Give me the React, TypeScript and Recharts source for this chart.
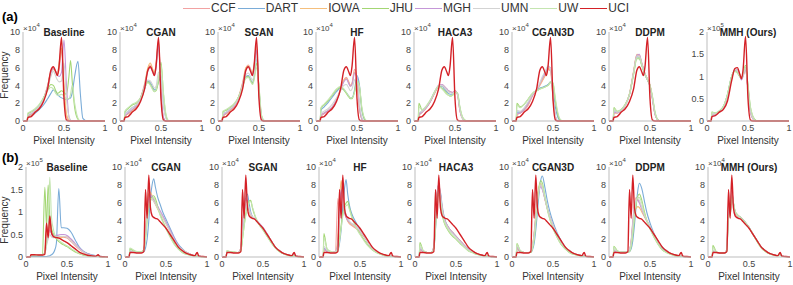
import React from 'react';
import { LineChart, Line, XAxis, YAxis } from 'recharts';

// Intensity histograms per site, values in units of 1e4 counts.
const FONT = '"Liberation Sans", Arial, sans-serif';
const SITES = ['CCF', 'DART', 'IOWA', 'JHU', 'MGH', 'UMN', 'UW', 'UCI'];
const COLORS = ['#f2a2a2', '#7aacd8', '#f5bf7c', '#a3d673', '#c597d8', '#d3d3d3', '#c4e5b0', '#d42127'];

// x grid of row (a) and row (b)
const XA = [0, 0.05, 0.06, 0.1, 0.15, 0.2, 0.25, 0.3, 0.34, 0.37, 0.4, 0.42, 0.44, 0.47, 0.5, 0.53, 0.56, 0.58, 0.6, 0.63, 0.67, 0.7, 0.73, 0.78, 1];
const XB = [0, 0.05, 0.06, 0.1, 0.15, 0.2, 0.23, 0.25, 0.27, 0.29, 0.31, 0.33, 0.35, 0.37, 0.4, 0.43, 0.46, 0.5, 0.55, 0.6, 0.65, 0.7, 0.75, 0.8, 0.85, 0.88, 0.9, 0.95, 1];

// target site (UCI)
const uciA = [0, 0, 0.4, 0.5, 1.0, 1.4, 2.2, 3.6, 5.7, 6.1, 5.5, 5.1, 6.2, 9.4, 2.5, 0.1, 0, 0, 0, 0, 0, 0, 0, 0, 0];
const uciMmhA = [0, 0, 1.0, 1.2, 2.0, 2.6, 4.5, 9.0, 11.8, 12.0, 10.5, 9.5, 11.5, 19.0, 5.0, 0.2, 0, 0, 0, 0, 0, 0, 0, 0, 0];
const uciB = [0, 0, 0.5, 0.5, 0.45, 0.45, 0.6, 7.5, 4.3, 9.1, 5.5, 4.6, 4.4, 4.3, 4.2, 3.9, 3.6, 3.2, 2.5, 1.8, 1.1, 0.7, 0.4, 0.25, 0.15, 0.5, 0.1, 0.05, 0];

// row (a) — each list: CCF, DART, IOWA, JHU, MGH, UMN, UW
const baselineA = [
  [0, 0, 0.5, 0.7, 1.1, 1.5, 2.4, 3.9, 5.6, 6.0, 5.6, 5.2, 5.8, 8.0, 3.5, 0.5, 0.05, 0, 0, 0, 0, 0, 0, 0, 0],
  [0, 0, 0.5, 0.6, 0.9, 1.3, 1.8, 2.5, 3.1, 3.5, 3.3, 3.0, 2.8, 2.6, 2.5, 2.4, 2.5, 2.6, 3.2, 5.0, 6.7, 3.0, 0.3, 0, 0],
  [0, 0, 0.5, 0.7, 1.1, 1.6, 2.5, 4.0, 5.5, 5.8, 5.5, 5.3, 6.5, 8.2, 4.0, 0.8, 0.1, 0, 0, 0, 0, 0, 0, 0, 0],
  [0, 0, 0.8, 1.0, 1.3, 1.8, 2.6, 3.5, 4.1, 4.0, 3.4, 3.1, 3.2, 3.4, 3.2, 3.0, 5.0, 6.8, 4.5, 1.5, 0.2, 0, 0, 0, 0],
  [0, 0, 0.6, 0.8, 1.2, 1.6, 2.5, 3.9, 5.4, 5.9, 5.6, 5.2, 5.0, 5.5, 9.1, 4.0, 0.5, 0.1, 0, 0, 0, 0, 0, 0, 0],
  [0, 0, 0.7, 0.9, 1.2, 1.7, 2.5, 3.7, 5.0, 5.6, 5.0, 4.6, 4.4, 4.5, 6.5, 2.5, 0.5, 0.1, 0, 0, 0, 0, 0, 0, 0],
  [0, 0, 0.9, 1.1, 1.4, 1.9, 2.6, 3.4, 3.8, 3.6, 3.1, 2.9, 2.9, 3.0, 2.8, 2.5, 2.5, 3.0, 4.0, 2.0, 0.3, 0, 0, 0, 0],
];
const cganA = [
  [0, 0, 0.5, 0.8, 1.2, 1.6, 2.5, 4.0, 5.8, 6.3, 5.7, 5.3, 6.3, 9.0, 3.0, 0.3, 0, 0, 0, 0, 0, 0, 0, 0, 0],
  [0, 0, 0.8, 1.1, 1.5, 1.8, 2.3, 3.6, 4.5, 4.3, 3.8, 3.5, 3.6, 4.4, 5.0, 2.0, 0.4, 0.1, 0, 0, 0, 0, 0, 0, 0],
  [0, 0, 0.5, 0.8, 1.2, 1.6, 2.6, 4.2, 6.0, 6.5, 5.8, 5.4, 6.5, 8.8, 3.2, 0.3, 0, 0, 0, 0, 0, 0, 0, 0, 0],
  [0, 0, 1.0, 1.4, 1.8, 2.0, 2.6, 3.8, 4.4, 4.1, 3.6, 3.3, 3.4, 4.5, 6.6, 3.0, 0.6, 0.1, 0, 0, 0, 0, 0, 0, 0],
  [0, 0, 0.6, 0.9, 1.3, 1.7, 2.6, 4.0, 5.6, 6.0, 5.5, 5.1, 6.0, 8.5, 3.3, 0.4, 0, 0, 0, 0, 0, 0, 0, 0, 0],
  [0, 0, 0.8, 1.1, 1.5, 1.8, 2.4, 3.7, 4.6, 4.5, 4.0, 3.7, 3.9, 5.5, 5.2, 1.8, 0.3, 0, 0, 0, 0, 0, 0, 0, 0],
  [0, 0, 1.1, 1.5, 1.9, 2.1, 2.6, 3.7, 4.3, 4.0, 3.5, 3.3, 3.5, 4.8, 6.3, 3.2, 0.8, 0.2, 0, 0, 0, 0, 0, 0, 0],
];
const sganA = [
  [0, 0, 0.5, 0.8, 1.2, 1.6, 2.6, 4.2, 5.9, 6.3, 5.8, 5.3, 6.1, 8.5, 3.0, 0.3, 0, 0, 0, 0, 0, 0, 0, 0, 0],
  [0, 0, 0.8, 1.0, 1.4, 1.8, 2.6, 3.9, 5.0, 5.1, 4.6, 4.3, 5.0, 7.0, 3.5, 0.5, 0, 0, 0, 0, 0, 0, 0, 0, 0],
  [0, 0, 0.5, 0.8, 1.2, 1.7, 2.7, 4.3, 6.0, 6.2, 5.7, 5.4, 6.3, 8.2, 3.3, 0.4, 0, 0, 0, 0, 0, 0, 0, 0, 0],
  [0, 0, 1.0, 1.2, 1.5, 1.9, 2.7, 3.9, 4.9, 5.0, 4.5, 4.2, 4.8, 6.5, 3.8, 0.6, 0.05, 0, 0, 0, 0, 0, 0, 0, 0],
  [0, 0, 0.6, 0.9, 1.3, 1.7, 2.6, 4.1, 5.7, 6.1, 5.6, 5.2, 5.9, 8.0, 3.2, 0.4, 0, 0, 0, 0, 0, 0, 0, 0, 0],
  [0, 0, 0.8, 1.0, 1.4, 1.8, 2.6, 4.0, 5.2, 5.4, 4.9, 4.6, 5.2, 7.2, 3.5, 0.5, 0, 0, 0, 0, 0, 0, 0, 0, 0],
  [0, 0, 1.1, 1.3, 1.6, 2.0, 2.7, 3.8, 4.8, 4.9, 4.4, 4.1, 4.6, 6.0, 3.9, 0.7, 0.1, 0, 0, 0, 0, 0, 0, 0, 0],
];
const hfA = [
  [0, 0, 0.5, 0.8, 1.1, 1.5, 2.3, 3.5, 4.6, 4.9, 4.4, 4.0, 4.3, 5.8, 4.8, 1.5, 0.2, 0, 0, 0, 0, 0, 0, 0, 0],
  [0, 0, 1.2, 1.6, 2.1, 2.7, 3.3, 3.7, 3.5, 3.2, 2.8, 2.6, 2.6, 3.5, 5.1, 4.0, 1.2, 0.4, 0.1, 0, 0, 0, 0, 0, 0],
  [0, 0, 0.6, 0.9, 1.2, 1.6, 2.4, 3.6, 4.6, 4.8, 4.3, 3.9, 4.2, 5.5, 4.6, 1.4, 0.2, 0, 0, 0, 0, 0, 0, 0, 0],
  [0, 0, 1.4, 1.8, 2.3, 2.9, 3.5, 3.8, 3.5, 3.1, 2.7, 2.5, 2.5, 3.3, 4.6, 3.8, 1.3, 0.5, 0.1, 0, 0, 0, 0, 0, 0],
  [0, 0, 0.6, 0.9, 1.2, 1.6, 2.4, 3.5, 4.4, 4.7, 4.2, 3.9, 4.1, 5.4, 4.9, 1.6, 0.2, 0, 0, 0, 0, 0, 0, 0, 0],
  [0, 0, 0.8, 1.1, 1.4, 1.9, 2.6, 3.4, 4.0, 4.1, 3.7, 3.4, 3.6, 4.6, 4.7, 2.0, 0.4, 0.1, 0, 0, 0, 0, 0, 0, 0],
  [0, 0, 1.5, 1.9, 2.4, 3.0, 3.6, 3.9, 3.6, 3.2, 2.8, 2.6, 2.6, 3.2, 4.4, 3.9, 1.5, 0.6, 0.2, 0, 0, 0, 0, 0, 0],
];
const haca3A = [
  [0, 0, 0.6, 1.0, 1.5, 2.2, 3.1, 3.9, 4.1, 3.9, 3.6, 3.4, 3.3, 3.2, 3.4, 3.0, 1.2, 0.5, 0.2, 0, 0, 0, 0, 0, 0],
  [0, 0, 0.8, 1.1, 1.6, 2.3, 3.2, 3.9, 3.9, 3.6, 3.3, 3.1, 3.0, 3.0, 3.3, 3.1, 1.4, 0.6, 0.2, 0, 0, 0, 0, 0, 0],
  [0, 0, 0.6, 1.0, 1.5, 2.2, 3.1, 3.9, 4.0, 3.8, 3.5, 3.3, 3.2, 3.2, 3.4, 3.0, 1.2, 0.5, 0.2, 0, 0, 0, 0, 0, 0],
  [0, 0, 2.0, 1.2, 1.6, 2.3, 3.2, 3.9, 3.7, 3.4, 3.1, 2.9, 2.8, 2.9, 3.2, 3.1, 1.5, 0.7, 0.3, 0.05, 0, 0, 0, 0, 0],
  [0, 0, 0.7, 1.0, 1.5, 2.2, 3.2, 4.0, 4.1, 3.9, 3.6, 3.4, 3.3, 3.2, 3.4, 3.0, 1.2, 0.5, 0.2, 0, 0, 0, 0, 0, 0],
  [0, 0, 0.9, 1.1, 1.6, 2.3, 3.2, 4.0, 4.0, 3.8, 3.5, 3.3, 3.2, 3.1, 3.3, 3.0, 1.3, 0.5, 0.2, 0, 0, 0, 0, 0, 0],
  [0, 0, 1.6, 1.3, 1.7, 2.4, 3.3, 3.9, 3.6, 3.3, 3.0, 2.9, 2.8, 2.9, 3.2, 3.2, 1.6, 0.8, 0.3, 0.05, 0, 0, 0, 0, 0],
];
const cgan3dA = [
  [0, 0, 0.7, 0.9, 1.2, 1.8, 2.8, 3.5, 4.0, 4.5, 5.0, 5.4, 5.8, 5.6, 2.5, 0.4, 0, 0, 0, 0, 0, 0, 0, 0, 0],
  [0, 0, 1.0, 1.0, 1.4, 2.1, 3.0, 3.5, 3.7, 3.8, 3.9, 4.0, 4.1, 4.4, 3.5, 1.5, 0.4, 0.1, 0, 0, 0, 0, 0, 0, 0],
  [0, 0, 0.7, 0.9, 1.3, 1.9, 2.9, 3.5, 4.1, 4.6, 5.1, 5.5, 5.9, 5.8, 2.7, 0.5, 0, 0, 0, 0, 0, 0, 0, 0, 0],
  [0, 0, 2.0, 1.6, 1.9, 2.5, 3.1, 3.4, 3.6, 3.7, 3.8, 3.9, 4.0, 4.3, 4.2, 2.2, 0.7, 0.2, 0, 0, 0, 0, 0, 0, 0],
  [0, 0, 0.8, 0.9, 1.3, 2.0, 2.9, 3.5, 4.2, 4.8, 5.3, 5.7, 6.1, 6.0, 2.8, 0.5, 0, 0, 0, 0, 0, 0, 0, 0, 0],
  [0, 0, 1.2, 1.1, 1.5, 2.2, 3.0, 3.5, 4.3, 5.0, 5.5, 5.9, 6.2, 5.9, 3.0, 0.6, 0, 0, 0, 0, 0, 0, 0, 0, 0],
  [0, 0, 1.8, 1.5, 1.9, 2.5, 3.1, 3.4, 3.6, 3.7, 3.8, 3.9, 4.0, 4.4, 4.3, 2.5, 0.9, 0.3, 0.1, 0, 0, 0, 0, 0, 0],
];
const ddpmA = [
  [0, 0, 0.9, 0.9, 1.2, 1.8, 3.0, 5.5, 7.4, 7.3, 6.4, 5.8, 5.3, 4.7, 4.0, 2.5, 0.8, 0.3, 0.1, 0, 0, 0, 0, 0, 0],
  [0, 0, 1.2, 1.0, 1.2, 1.8, 3.0, 5.4, 7.2, 7.1, 6.3, 5.7, 5.2, 4.6, 3.9, 2.6, 0.9, 0.3, 0.1, 0, 0, 0, 0, 0, 0],
  [0, 0, 0.9, 0.9, 1.2, 1.8, 3.1, 5.6, 7.5, 7.4, 6.5, 5.9, 5.3, 4.7, 4.0, 2.5, 0.8, 0.3, 0.1, 0, 0, 0, 0, 0, 0],
  [0, 0, 1.5, 1.1, 1.3, 1.9, 3.0, 5.2, 7.0, 7.0, 6.2, 5.7, 5.2, 4.6, 4.0, 2.7, 1.0, 0.4, 0.1, 0, 0, 0, 0, 0, 0],
  [0, 0, 1.0, 0.9, 1.2, 1.8, 3.0, 5.5, 7.4, 7.5, 6.5, 5.9, 5.3, 4.6, 3.9, 2.4, 0.8, 0.3, 0.1, 0, 0, 0, 0, 0, 0],
  [0, 0, 1.2, 1.0, 1.2, 1.8, 3.0, 5.4, 7.3, 7.3, 6.4, 5.8, 5.3, 4.7, 4.0, 2.6, 0.9, 0.3, 0.1, 0, 0, 0, 0, 0, 0],
  [0, 0, 1.4, 1.1, 1.3, 1.9, 3.0, 5.3, 7.1, 7.1, 6.3, 5.7, 5.2, 4.6, 4.0, 2.8, 1.1, 0.4, 0.1, 0, 0, 0, 0, 0, 0],
];
const mmhA = [
  [0, 0, 1.5, 1.5, 2.0, 3.0, 5.5, 9.5, 11.5, 11.5, 10.5, 9.8, 10.5, 11.5, 7.0, 2.0, 0.5, 0.2, 0, 0, 0, 0, 0, 0, 0],
  [0, 0, 1.5, 1.6, 2.2, 3.2, 6.0, 10.0, 11.5, 11.0, 10.0, 9.5, 10.5, 12.0, 7.5, 2.5, 0.8, 0.3, 0.1, 0, 0, 0, 0, 0, 0],
  [0, 0, 1.4, 1.5, 2.1, 3.1, 5.6, 9.6, 11.6, 11.4, 10.3, 9.7, 10.4, 11.6, 7.1, 2.1, 0.5, 0.2, 0, 0, 0, 0, 0, 0, 0],
  [0, 0, 2.0, 1.8, 2.2, 3.3, 6.0, 10.0, 11.2, 10.8, 10.0, 9.5, 10.5, 12.5, 8.0, 3.0, 1.0, 0.4, 0.1, 0, 0, 0, 0, 0, 0],
  [0, 0, 1.2, 1.4, 2.0, 3.0, 5.5, 9.5, 11.5, 11.5, 10.2, 9.2, 10.0, 11.5, 7.0, 2.0, 0.5, 0.1, 0, 0, 0, 0, 0, 0, 0],
  [0, 0, 1.6, 1.6, 2.1, 3.1, 5.8, 9.8, 11.6, 11.3, 10.1, 9.6, 10.3, 11.8, 7.3, 2.3, 0.6, 0.2, 0, 0, 0, 0, 0, 0, 0],
  [0, 0, 2.0, 1.8, 2.3, 3.3, 6.0, 10.0, 11.2, 10.8, 10.0, 9.6, 10.6, 12.3, 8.0, 3.2, 1.1, 0.4, 0.1, 0, 0, 0, 0, 0, 0],
];

// row (b) — each list: CCF, DART, IOWA, JHU, MGH, UMN, UW
const baselineB = [
  [0, 0, 0.5, 0.5, 0.45, 0.5, 1.0, 5.5, 4.0, 7.0, 5.5, 5.0, 4.8, 4.7, 4.6, 4.5, 4.4, 4.2, 3.4, 2.5, 1.7, 1.1, 0.7, 0.4, 0.25, 0.3, 0.1, 0.05, 0],
  [0, 0, 0.1, 0.1, 0.1, 0.1, 0.1, 0.1, 0.2, 0.3, 0.5, 0.8, 1.5, 3.0, 15.2, 6.5, 6.5, 6.4, 5.5, 3.8, 2.2, 1.3, 0.8, 0.5, 0.3, 0.2, 0.15, 0.05, 0],
  [0, 0, 0.4, 0.4, 0.4, 0.5, 1.2, 6.0, 4.5, 8.0, 5.5, 4.8, 4.5, 4.4, 4.3, 4.3, 4.5, 4.5, 3.8, 2.8, 1.8, 1.1, 0.6, 0.35, 0.2, 0.2, 0.1, 0.05, 0],
  [0, 0, 0.3, 0.3, 0.3, 0.5, 15.5, 7.0, 16.0, 9.0, 6.5, 5.3, 4.6, 4.0, 3.4, 3.0, 2.7, 2.3, 1.7, 1.1, 0.7, 0.4, 0.25, 0.15, 0.1, 0.1, 0.05, 0, 0],
  [0, 0, 0.4, 0.4, 0.4, 0.5, 0.8, 3.0, 5.0, 6.0, 5.2, 4.8, 4.7, 4.8, 4.9, 5.0, 5.0, 4.8, 4.0, 3.0, 2.0, 1.2, 0.7, 0.4, 0.2, 0.2, 0.1, 0.05, 0],
  [0, 0, 0.4, 0.4, 0.4, 0.5, 0.8, 2.5, 4.0, 5.0, 4.5, 4.3, 4.3, 4.4, 4.5, 4.6, 4.6, 4.4, 3.6, 2.7, 1.8, 1.1, 0.6, 0.35, 0.2, 0.2, 0.1, 0.05, 0],
  [0, 0, 0.4, 0.4, 0.4, 0.4, 1.0, 3.0, 7.0, 17.7, 9.0, 6.5, 5.0, 4.3, 3.7, 3.3, 2.9, 2.5, 1.9, 1.3, 0.8, 0.5, 0.3, 0.2, 0.1, 0.1, 0.05, 0, 0],
];
const cganB = [
  [0, 0, 0.6, 0.55, 0.5, 0.5, 0.8, 2.5, 5.0, 6.8, 7.0, 6.6, 6.2, 5.9, 5.4, 4.9, 4.5, 3.8, 2.9, 2.0, 1.3, 0.8, 0.5, 0.3, 0.15, 0.2, 0.1, 0.05, 0],
  [0, 0, 0.7, 0.6, 0.55, 0.5, 0.6, 1.0, 2.0, 4.0, 6.5, 8.0, 8.7, 7.8, 6.6, 5.8, 5.0, 4.2, 3.2, 2.2, 1.4, 0.9, 0.5, 0.3, 0.15, 0.15, 0.1, 0.05, 0],
  [0, 0, 0.6, 0.55, 0.5, 0.5, 0.9, 2.8, 5.5, 7.0, 7.2, 6.8, 6.3, 5.9, 5.3, 4.8, 4.4, 3.7, 2.8, 1.9, 1.2, 0.8, 0.5, 0.3, 0.15, 0.2, 0.1, 0.05, 0],
  [0, 0, 0.9, 0.7, 0.6, 0.6, 0.8, 2.0, 4.0, 5.5, 6.3, 6.7, 6.8, 6.5, 5.6, 4.7, 4.0, 3.2, 2.3, 1.5, 0.9, 0.5, 0.3, 0.2, 0.1, 0.1, 0.05, 0, 0],
  [0, 0, 0.6, 0.55, 0.5, 0.5, 0.8, 2.5, 5.0, 6.5, 6.9, 6.7, 6.4, 6.1, 5.6, 5.1, 4.6, 3.9, 3.0, 2.1, 1.3, 0.8, 0.5, 0.3, 0.15, 0.2, 0.1, 0.05, 0],
  [0, 0, 0.7, 0.6, 0.55, 0.5, 0.7, 2.3, 4.5, 6.0, 6.5, 6.4, 6.2, 5.9, 5.4, 4.9, 4.4, 3.7, 2.8, 1.9, 1.2, 0.8, 0.5, 0.3, 0.15, 0.15, 0.1, 0.05, 0],
  [0, 0, 1.0, 0.8, 0.6, 0.6, 0.8, 2.2, 4.2, 5.6, 6.2, 6.5, 6.6, 6.2, 5.4, 4.6, 3.9, 3.1, 2.2, 1.4, 0.9, 0.5, 0.3, 0.2, 0.1, 0.1, 0.05, 0, 0],
];
const sganB = [
  [0, 0, 0.6, 0.55, 0.5, 0.5, 1.0, 3.5, 5.5, 6.5, 6.2, 5.3, 4.7, 4.4, 4.2, 3.9, 3.6, 3.2, 2.5, 1.8, 1.1, 0.7, 0.4, 0.25, 0.15, 0.3, 0.1, 0.05, 0],
  [0, 0, 0.6, 0.55, 0.5, 0.5, 0.8, 2.5, 4.5, 6.5, 7.0, 6.0, 5.0, 4.5, 4.2, 3.9, 3.6, 3.2, 2.5, 1.8, 1.1, 0.7, 0.4, 0.25, 0.15, 0.25, 0.1, 0.05, 0],
  [0, 0, 0.6, 0.55, 0.5, 0.5, 1.0, 3.3, 5.3, 6.3, 6.0, 5.2, 4.7, 4.4, 4.2, 3.9, 3.6, 3.2, 2.5, 1.8, 1.1, 0.7, 0.4, 0.25, 0.15, 0.3, 0.1, 0.05, 0],
  [0, 0, 0.7, 0.6, 0.55, 0.5, 0.7, 2.0, 3.5, 4.8, 5.6, 6.2, 6.3, 5.5, 4.6, 4.0, 3.5, 3.0, 2.3, 1.6, 1.0, 0.6, 0.35, 0.2, 0.1, 0.15, 0.05, 0, 0],
  [0, 0, 0.6, 0.55, 0.5, 0.5, 1.0, 3.4, 5.4, 6.4, 6.1, 5.3, 4.8, 4.5, 4.3, 4.0, 3.7, 3.3, 2.6, 1.8, 1.1, 0.7, 0.4, 0.25, 0.15, 0.3, 0.1, 0.05, 0],
  [0, 0, 0.6, 0.55, 0.5, 0.5, 0.9, 3.0, 5.0, 6.2, 6.1, 5.4, 4.8, 4.5, 4.2, 3.9, 3.6, 3.2, 2.5, 1.8, 1.1, 0.7, 0.4, 0.25, 0.15, 0.25, 0.1, 0.05, 0],
  [0, 0, 0.7, 0.6, 0.55, 0.5, 0.7, 2.0, 3.4, 4.6, 5.4, 6.0, 6.2, 5.6, 4.7, 4.0, 3.5, 3.0, 2.3, 1.6, 1.0, 0.6, 0.35, 0.2, 0.1, 0.15, 0.05, 0, 0],
];
const hfB = [
  [0, 0, 0.8, 0.6, 0.5, 0.6, 6.5, 5.0, 7.0, 8.0, 5.5, 4.5, 4.0, 3.7, 3.5, 3.3, 3.1, 2.8, 2.2, 1.6, 1.0, 0.6, 0.35, 0.2, 0.12, 0.15, 0.08, 0.03, 0],
  [0, 0, 1.0, 0.6, 0.5, 0.5, 0.7, 1.5, 3.0, 5.5, 7.5, 8.6, 7.0, 5.8, 4.8, 4.2, 3.7, 3.1, 2.3, 1.6, 1.0, 0.6, 0.35, 0.2, 0.1, 0.1, 0.05, 0.02, 0],
  [0, 0, 0.8, 0.6, 0.5, 0.6, 2.0, 6.0, 8.5, 7.0, 5.2, 4.4, 4.0, 3.8, 3.6, 3.4, 3.2, 2.9, 2.3, 1.6, 1.0, 0.6, 0.35, 0.2, 0.12, 0.15, 0.08, 0.03, 0],
  [0, 0, 2.6, 0.8, 0.5, 0.5, 0.8, 2.0, 3.5, 4.8, 5.6, 6.0, 6.2, 5.5, 4.5, 3.8, 3.2, 2.6, 1.9, 1.3, 0.8, 0.5, 0.3, 0.15, 0.1, 0.08, 0.05, 0.02, 0],
  [0, 0, 0.9, 0.6, 0.5, 0.6, 1.5, 5.0, 7.5, 6.5, 5.0, 4.4, 4.1, 3.9, 3.7, 3.5, 3.3, 2.9, 2.3, 1.6, 1.0, 0.6, 0.35, 0.2, 0.12, 0.15, 0.08, 0.03, 0],
  [0, 0, 1.2, 0.7, 0.5, 0.6, 1.0, 4.0, 6.0, 6.2, 5.3, 4.7, 4.3, 4.0, 3.7, 3.5, 3.3, 2.9, 2.3, 1.6, 1.0, 0.6, 0.35, 0.2, 0.12, 0.12, 0.08, 0.03, 0],
  [0, 0, 2.2, 0.9, 0.6, 0.5, 0.8, 1.8, 3.2, 4.5, 5.3, 5.7, 5.8, 5.3, 4.4, 3.7, 3.1, 2.5, 1.8, 1.2, 0.8, 0.5, 0.3, 0.15, 0.1, 0.08, 0.05, 0.02, 0],
];
const haca3B = [
  [0, 0, 0.8, 0.6, 0.5, 0.5, 1.2, 4.0, 7.0, 8.0, 7.0, 5.5, 4.5, 3.9, 3.4, 3.0, 2.7, 2.3, 1.8, 1.3, 0.9, 0.6, 0.4, 0.25, 0.15, 0.15, 0.08, 0.03, 0],
  [0, 0, 0.9, 0.6, 0.5, 0.5, 1.0, 3.0, 6.0, 7.5, 7.2, 5.8, 4.7, 4.0, 3.4, 3.0, 2.7, 2.3, 1.8, 1.3, 0.9, 0.6, 0.4, 0.25, 0.15, 0.15, 0.08, 0.03, 0],
  [0, 0, 0.8, 0.6, 0.5, 0.5, 1.1, 3.8, 6.8, 7.8, 6.9, 5.5, 4.5, 3.9, 3.4, 3.0, 2.7, 2.3, 1.8, 1.3, 0.9, 0.6, 0.4, 0.25, 0.15, 0.15, 0.08, 0.03, 0],
  [0, 0, 1.6, 0.7, 0.5, 0.5, 1.0, 3.5, 6.5, 7.0, 6.0, 4.8, 4.0, 3.5, 3.0, 2.6, 2.3, 2.0, 1.5, 1.1, 0.7, 0.5, 0.3, 0.2, 0.1, 0.1, 0.05, 0.02, 0],
  [0, 0, 0.9, 0.6, 0.5, 0.5, 1.2, 4.2, 7.2, 8.1, 7.0, 5.5, 4.5, 3.9, 3.4, 3.0, 2.7, 2.3, 1.8, 1.3, 0.9, 0.6, 0.4, 0.25, 0.15, 0.15, 0.08, 0.03, 0],
  [0, 0, 1.1, 0.7, 0.5, 0.5, 1.1, 4.0, 7.0, 7.9, 6.9, 5.4, 4.4, 3.8, 3.3, 2.9, 2.6, 2.2, 1.7, 1.2, 0.8, 0.6, 0.4, 0.25, 0.15, 0.15, 0.08, 0.03, 0],
  [0, 0, 1.4, 0.7, 0.5, 0.5, 0.9, 3.2, 6.2, 7.0, 6.2, 5.0, 4.1, 3.6, 3.1, 2.7, 2.4, 2.0, 1.5, 1.1, 0.7, 0.5, 0.3, 0.2, 0.1, 0.1, 0.05, 0.02, 0],
];
const cgan3dB = [
  [0, 0, 1.0, 0.6, 0.5, 0.5, 0.6, 1.2, 2.5, 4.5, 6.5, 7.6, 8.0, 7.6, 6.5, 5.4, 4.5, 3.5, 2.5, 1.7, 1.1, 0.7, 0.4, 0.25, 0.15, 0.1, 0.06, 0.02, 0],
  [0, 0, 1.0, 0.6, 0.5, 0.5, 0.5, 0.8, 1.5, 3.0, 5.0, 7.0, 8.5, 9.0, 7.8, 6.3, 5.1, 3.9, 2.7, 1.8, 1.1, 0.7, 0.4, 0.25, 0.15, 0.1, 0.06, 0.02, 0],
  [0, 0, 1.0, 0.6, 0.5, 0.5, 0.6, 1.3, 2.7, 4.7, 6.7, 7.8, 8.2, 7.7, 6.5, 5.4, 4.5, 3.5, 2.5, 1.7, 1.1, 0.7, 0.4, 0.25, 0.15, 0.1, 0.06, 0.02, 0],
  [0, 0, 1.5, 0.7, 0.5, 0.5, 0.5, 1.0, 2.0, 4.0, 6.2, 7.8, 8.5, 8.2, 6.8, 5.4, 4.3, 3.2, 2.2, 1.4, 0.9, 0.5, 0.3, 0.2, 0.1, 0.08, 0.05, 0.02, 0],
  [0, 0, 1.1, 0.6, 0.5, 0.5, 0.6, 1.2, 2.5, 4.4, 6.3, 7.4, 7.8, 7.5, 6.5, 5.4, 4.5, 3.5, 2.5, 1.7, 1.1, 0.7, 0.4, 0.25, 0.15, 0.1, 0.06, 0.02, 0],
  [0, 0, 1.3, 0.7, 0.5, 0.5, 0.6, 1.2, 2.4, 4.3, 6.3, 7.5, 8.0, 7.7, 6.6, 5.4, 4.5, 3.5, 2.5, 1.7, 1.1, 0.7, 0.4, 0.25, 0.15, 0.1, 0.06, 0.02, 0],
  [0, 0, 1.4, 0.7, 0.5, 0.5, 0.5, 1.0, 2.0, 3.9, 6.0, 7.6, 8.3, 8.0, 6.7, 5.3, 4.2, 3.2, 2.2, 1.4, 0.9, 0.5, 0.3, 0.2, 0.1, 0.08, 0.05, 0.02, 0],
];
const ddpmB = [
  [0, 0, 0.7, 0.6, 0.55, 0.55, 0.6, 0.8, 1.8, 4.0, 5.8, 6.6, 6.4, 6.1, 5.4, 4.7, 4.1, 3.4, 2.5, 1.7, 1.1, 0.7, 0.4, 0.25, 0.15, 0.12, 0.07, 0.03, 0],
  [0, 0, 0.7, 0.6, 0.55, 0.55, 0.55, 0.6, 0.9, 1.8, 3.5, 5.5, 7.3, 8.2, 7.6, 6.3, 5.0, 3.8, 2.6, 1.7, 1.0, 0.6, 0.35, 0.2, 0.12, 0.1, 0.06, 0.02, 0],
  [0, 0, 0.7, 0.6, 0.55, 0.55, 0.6, 0.8, 1.6, 3.5, 5.0, 5.4, 5.6, 5.5, 5.0, 4.5, 4.0, 3.3, 2.5, 1.7, 1.1, 0.7, 0.4, 0.25, 0.15, 0.12, 0.07, 0.03, 0],
  [0, 0, 1.2, 0.7, 0.55, 0.55, 0.55, 0.6, 1.2, 2.5, 4.3, 5.8, 6.7, 7.0, 6.3, 5.1, 4.1, 3.2, 2.2, 1.4, 0.8, 0.5, 0.3, 0.15, 0.1, 0.08, 0.05, 0.02, 0],
  [0, 0, 0.7, 0.6, 0.55, 0.55, 0.6, 0.8, 1.7, 3.8, 5.6, 6.2, 6.3, 6.0, 5.3, 4.6, 4.0, 3.3, 2.5, 1.7, 1.1, 0.7, 0.4, 0.25, 0.15, 0.12, 0.07, 0.03, 0],
  [0, 0, 0.9, 0.6, 0.55, 0.55, 0.6, 0.8, 1.6, 3.5, 5.5, 6.3, 6.5, 6.3, 5.5, 4.7, 4.1, 3.4, 2.5, 1.7, 1.1, 0.7, 0.4, 0.25, 0.15, 0.12, 0.07, 0.03, 0],
  [0, 0, 1.1, 0.7, 0.55, 0.55, 0.55, 0.6, 1.3, 2.8, 4.6, 6.0, 6.6, 6.6, 6.0, 4.9, 4.0, 3.1, 2.2, 1.4, 0.8, 0.5, 0.3, 0.15, 0.1, 0.08, 0.05, 0.02, 0],
];
const mmhB = [
  [0, 0, 0.6, 0.5, 0.45, 0.45, 0.8, 6.0, 4.8, 7.5, 5.8, 4.9, 4.6, 4.5, 4.3, 4.0, 3.7, 3.3, 2.5, 1.8, 1.1, 0.7, 0.4, 0.25, 0.15, 0.4, 0.1, 0.05, 0],
  [0, 0, 0.7, 0.5, 0.45, 0.45, 0.7, 5.0, 4.8, 7.0, 6.0, 5.0, 4.7, 4.5, 4.3, 4.0, 3.7, 3.3, 2.5, 1.8, 1.1, 0.7, 0.4, 0.25, 0.15, 0.35, 0.1, 0.05, 0],
  [0, 0, 0.6, 0.5, 0.45, 0.45, 0.8, 5.8, 4.7, 7.3, 5.8, 4.9, 4.6, 4.5, 4.3, 4.0, 3.7, 3.3, 2.5, 1.8, 1.1, 0.7, 0.4, 0.25, 0.15, 0.4, 0.1, 0.05, 0],
  [0, 0, 1.3, 0.6, 0.45, 0.45, 0.7, 4.5, 4.6, 6.5, 6.0, 5.1, 4.8, 4.6, 4.4, 4.1, 3.8, 3.3, 2.5, 1.7, 1.0, 0.6, 0.35, 0.2, 0.12, 0.3, 0.08, 0.04, 0],
  [0, 0, 0.6, 0.5, 0.45, 0.45, 0.8, 5.8, 4.8, 7.4, 5.9, 5.0, 4.7, 4.6, 4.4, 4.1, 3.8, 3.3, 2.5, 1.8, 1.1, 0.7, 0.4, 0.25, 0.15, 0.4, 0.1, 0.05, 0],
  [0, 0, 0.8, 0.5, 0.45, 0.45, 0.8, 5.5, 4.7, 7.2, 5.9, 5.0, 4.7, 4.5, 4.3, 4.0, 3.7, 3.3, 2.5, 1.8, 1.1, 0.7, 0.4, 0.25, 0.15, 0.35, 0.1, 0.05, 0],
  [0, 0, 1.1, 0.6, 0.45, 0.45, 0.7, 4.6, 4.6, 6.6, 6.0, 5.1, 4.8, 4.6, 4.4, 4.1, 3.8, 3.3, 2.5, 1.7, 1.0, 0.6, 0.35, 0.2, 0.12, 0.3, 0.08, 0.04, 0],
];

const TITLES = ['Baseline', 'CGAN', 'SGAN', 'HF', 'HACA3', 'CGAN3D', 'DDPM', 'MMH (Ours)'];
const ROW_A = [baselineA, cganA, sganA, hfA, haca3A, cgan3dA, ddpmA, mmhA];
const ROW_B = [baselineB, cganB, sganB, hfB, haca3B, cgan3dB, ddpmB, mmhB];
const EXP_A = [4, 4, 4, 4, 4, 4, 4, 5];
const EXP_B = [5, 4, 4, 4, 4, 4, 4, 4];

const PLOT_W = 82;
const AXIS_W = 20;
const TOP_M = 14;
const LEFT_A = [23, 120, 218, 316, 414, 512, 609, 707];
const LEFT_B = [26, 125, 222, 319, 415, 512, 609, 708];

function Panel({ left, top, plotH, xs, sites, uci, exp, title }) {
  const big = exp === 5;
  const data = xs.map((x, i) => {
    const row: Record<string, number> = { x };
    sites.forEach((s, k) => {
      row[SITES[k]] = s[i];
    });
    row.UCI = uci[i];
    return row;
  });
  return (
    <div style={{ position: 'absolute', left: left - AXIS_W, top: top - TOP_M }}>
      <LineChart
        width={PLOT_W + AXIS_W + 10}
        height={TOP_M + plotH + 26}
        data={data}
        margin={{ top: TOP_M, right: 10, left: 0, bottom: 0 }}
      >
        <XAxis
          dataKey="x"
          type="number"
          domain={[0, 1]}
          ticks={[0, 0.5, 1]}
          height={26}
          tickLine={false}
          tickSize={2}
          tickMargin={2}
          axisLine={{ stroke: '#bdbdbd' }}
          tick={{ fontSize: 9, fill: '#444', fontFamily: FONT }}
          label={{ value: 'Pixel Intensity', position: 'insideBottom', offset: 3, fontSize: 10, fill: '#333', fontFamily: FONT }}
        />
        <YAxis
          type="number"
          width={AXIS_W}
          domain={big ? [0, 20] : [0, 10]}
          ticks={big ? [0, 5, 10, 15, 20] : [0, 2, 4, 6, 8, 10]}
          tickFormatter={(v: number) => String(big ? v / 10 : v)}
          tickLine={false}
          tickSize={2}
          tickMargin={1}
          axisLine={{ stroke: '#bdbdbd' }}
          tick={{ fontSize: 9, fill: '#444', fontFamily: FONT }}
        />
        {SITES.map((s, k) => (
          <Line
            key={s}
            type="monotone"
            dataKey={s}
            stroke={COLORS[k]}
            strokeWidth={s === 'UCI' ? 1.4 : 1.1}
            dot={false}
            activeDot={false}
            isAnimationActive={false}
          />
        ))}
      </LineChart>
      <div style={{ position: 'absolute', left: AXIS_W, top: TOP_M - 5, width: PLOT_W, textAlign: 'center', fontFamily: FONT, fontWeight: 'bold', fontSize: 10, lineHeight: '12px', color: '#222' }}>
        {title}
      </div>
      <div style={{ position: 'absolute', left: AXIS_W, top: TOP_M - 12, fontFamily: FONT, fontSize: 8, lineHeight: '10px', color: '#444' }}>
        ×10<sup style={{ fontSize: 6 }}>{exp}</sup>
      </div>
    </div>
  );
}

function Legend() {
  return (
    <div style={{ position: 'absolute', left: 183, top: 1, height: 14, display: 'flex', alignItems: 'center', fontFamily: FONT, fontSize: 12, color: '#333' }}>
      {SITES.map((s, k) => (
        <div key={s} style={{ display: 'flex', alignItems: 'center', marginRight: 2 }}>
          <div style={{ width: 27, height: 0, borderTop: `${s === 'UCI' ? 1.6 : 1.3}px solid ${COLORS[k]}`, marginRight: 1 }} />
          <span>{s}</span>
        </div>
      ))}
    </div>
  );
}

const sideText = { position: 'absolute', fontFamily: FONT } as const;

export default function App() {
  return (
    <div style={{ position: 'absolute', left: 0, top: 0, width: 793, height: 285, background: '#fff', overflow: 'hidden' }}>
      <Legend />
      <div style={{ ...sideText, left: 2, top: 9, fontSize: 13, fontWeight: 'bold' }}>(a)</div>
      <div style={{ ...sideText, left: 2, top: 150, fontSize: 13, fontWeight: 'bold' }}>(b)</div>
      <div style={{ ...sideText, left: -25, top: 69, width: 60, textAlign: 'center', fontSize: 10, lineHeight: '12px', color: '#333', transform: 'rotate(-90deg)' }}>Frequency</div>
      <div style={{ ...sideText, left: -25, top: 214, width: 60, textAlign: 'center', fontSize: 10, lineHeight: '12px', color: '#333', transform: 'rotate(-90deg)' }}>Frequency</div>
      {ROW_A.map((sites, i) => (
        <Panel key={'a' + i} left={LEFT_A[i]} top={32} plotH={89} xs={XA} sites={sites} uci={i === 7 ? uciMmhA : uciA} exp={EXP_A[i]} title={TITLES[i]} />
      ))}
      {ROW_B.map((sites, i) => (
        <Panel key={'b' + i} left={LEFT_B[i]} top={167} plotH={90} xs={XB} sites={sites} uci={uciB} exp={EXP_B[i]} title={TITLES[i]} />
      ))}
    </div>
  );
}
